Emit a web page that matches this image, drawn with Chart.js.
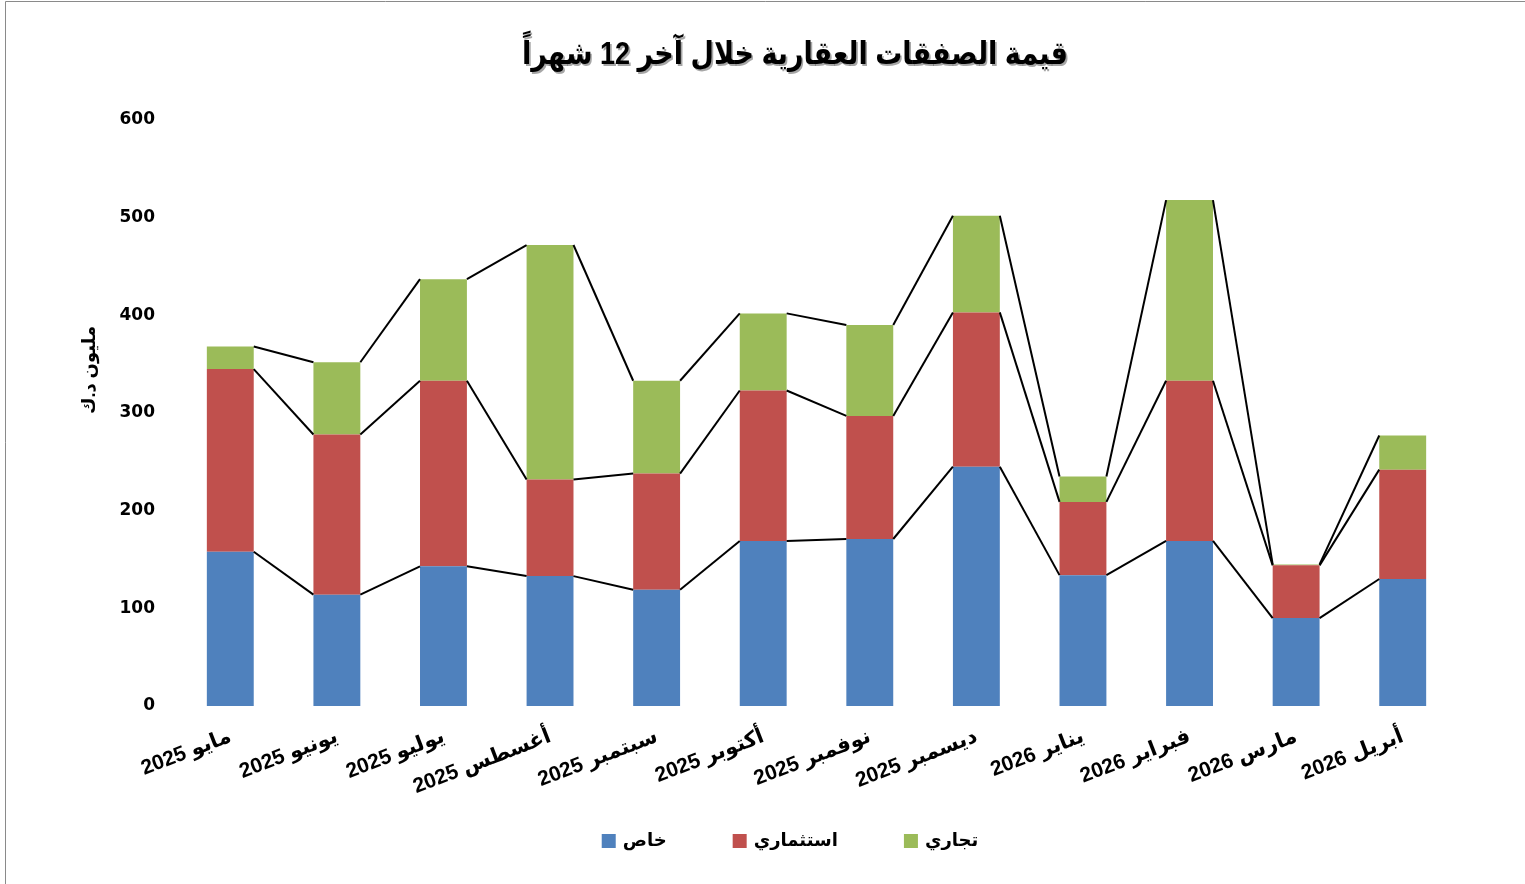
<!DOCTYPE html>
<html>
<head>
<meta charset="utf-8">
<script src="https://cdn.jsdelivr.net/npm/chart.js@4.4.1/dist/chart.umd.min.js"></script>
<style>
  html, body { margin: 0; padding: 0; background: #fff; }
  #wrap { width: 1525px; height: 884px; }
</style>
</head>
<body>
<div id="wrap"><canvas id="chart" width="1525" height="884"></canvas></div>
<script>
// Chart data (million KWD)
const months = ["مايو", "يونيو", "يوليو", "أغسطس", "سبتمبر", "أكتوبر", "نوفمبر", "ديسمبر", "يناير", "فبراير", "مارس", "أبريل"];
const years = ["2025", "2025", "2025", "2025", "2025", "2025", "2025", "2025", "2026", "2026", "2026", "2026"];
const privateVals = [158, 114, 143, 133, 119, 169, 171, 245, 134, 169, 90, 130];      // خاص
const investVals = [187, 164, 190, 99, 119, 154, 126, 158, 75, 164, 54, 112];         // استثماري
const commercialVals = [23, 74, 104, 240, 95, 79, 93, 99, 26, 185, 1, 35];            // تجاري
const yTicks = [0, 100, 200, 300, 400, 500, 600];

const titleText = "قيمة الصفقات العقارية خلال آخر 12 شهراً";
const yTitle = "مليون د.ك";

const labels = months.map(function (m, i) { return years[i] + " " + m; });

// Frame, title, y-axis title, series lines and legend
const decorations = {
  id: "decorations",
  beforeDraw: function (chart) {
    const ctx = chart.ctx;
    ctx.save();
    ctx.fillStyle = "#fff";
    ctx.fillRect(0, 0, chart.width, chart.height);
    ctx.strokeStyle = "#8a8a8a";
    ctx.lineWidth = 1;
    ctx.beginPath();
    ctx.moveTo(5.5, chart.height);
    ctx.lineTo(5.5, 1.5);
    ctx.lineTo(chart.width, 1.5);
    ctx.stroke();
    ctx.restore();
  },
  afterDatasetsDraw: function (chart) {
    const ctx = chart.ctx;
    ctx.save();
    ctx.strokeStyle = "#000";
    ctx.lineWidth = 2;
    chart.data.datasets.forEach(function (ds, d) {
      const bars = chart.getDatasetMeta(d).data;
      for (let i = 0; i < bars.length - 1; i++) {
        const a = bars[i], b = bars[i + 1];
        ctx.beginPath();
        ctx.moveTo(a.x + a.width / 2, a.y);
        ctx.lineTo(b.x - b.width / 2, b.y);
        ctx.stroke();
      }
    });
    ctx.restore();
  },
  afterDraw: function (chart) {
    const ctx = chart.ctx;
    ctx.save();

    // title (slightly condensed, with soft shadow)
    ctx.font = "bold 32px 'Liberation Sans Narrow', 'Liberation Sans', 'DejaVu Sans', sans-serif";
    ctx.textAlign = "center";
    ctx.textBaseline = "middle";
    const w = ctx.measureText(titleText).width;
    const sx = w > 546 ? 546 / w : 1;
    ctx.translate(795, 55);
    ctx.scale(sx, 1);
    ctx.fillStyle = "rgba(0,0,0,0.35)";
    ctx.fillText(titleText, 2, 2);
    ctx.fillStyle = "#000";
    ctx.fillText(titleText, 0, 0);
    ctx.setTransform(1, 0, 0, 1, 0, 0);

    // y-axis title
    ctx.translate(90, 370);
    ctx.rotate(-Math.PI / 2);
    ctx.font = "bold 18px 'Liberation Sans', 'DejaVu Sans', sans-serif";
    ctx.fillText(yTitle, 0, 0);
    ctx.setTransform(1, 0, 0, 1, 0, 0);

    // legend
    ctx.font = "bold 18px 'Liberation Sans', 'DejaVu Sans', sans-serif";
    ctx.textAlign = "left";
    const box = 14, gapBox = 7, gapItem = 66;
    const items = chart.data.datasets.map(function (ds) {
      return { text: ds.label, color: ds.backgroundColor, w: ctx.measureText(ds.label).width };
    });
    let total = 0;
    items.forEach(function (it, i) { total += box + gapBox + it.w + (i < items.length - 1 ? gapItem : 0); });
    let x = 790 - total / 2;
    const y = 841;
    items.forEach(function (it) {
      ctx.fillStyle = it.color;
      ctx.fillRect(x, y - box / 2, box, box);
      ctx.fillStyle = "#000";
      ctx.fillText(it.text, x + box + gapBox, y);
      x += box + gapBox + it.w + gapItem;
    });
    ctx.restore();
  }
};

const ctx = document.getElementById("chart").getContext("2d");
const chart = new Chart(ctx, {
  type: "bar",
  data: {
    labels: labels,
    datasets: [
      { label: "خاص", data: privateVals, backgroundColor: "#4F81BD" },
      { label: "استثماري", data: investVals, backgroundColor: "#C0504D" },
      { label: "تجاري", data: commercialVals, backgroundColor: "#9BBB59" }
    ]
  },
  options: {
    responsive: false,
    animation: false,
    layout: { padding: { left: 60, right: 69, top: 120, bottom: 78 } },
    datasets: { bar: { categoryPercentage: 1, barPercentage: 0.44 } },
    plugins: {
      legend: { display: false },
      title: { display: false },
      tooltip: { enabled: false }
    },
    scales: {
      x: {
        stacked: true,
        grid: { display: false, drawTicks: false },
        border: { display: false },
        ticks: {
          color: "#000",
          minRotation: 21,
          maxRotation: 21,
          padding: 18,
          font: { family: "'Liberation Sans', 'DejaVu Sans', sans-serif", size: 21, weight: "bold" }
        },
        afterFit: function (scale) { scale.height = 100; }
      },
      y: {
        stacked: true,
        min: 0,
        max: 600,
        afterBuildTicks: function (scale) {
          scale.ticks = yTicks.map(function (v) { return { value: v }; });
        },
        grid: { display: false, drawTicks: false },
        border: { display: false },
        ticks: {
          color: "#000",
          padding: 22,
          font: { family: "'DejaVu Sans', sans-serif", size: 17, weight: "bold" }
        },
        afterFit: function (scale) { scale.width = 117; }
      }
    }
  },
  plugins: [decorations]
});
</script>
</body>
</html>
